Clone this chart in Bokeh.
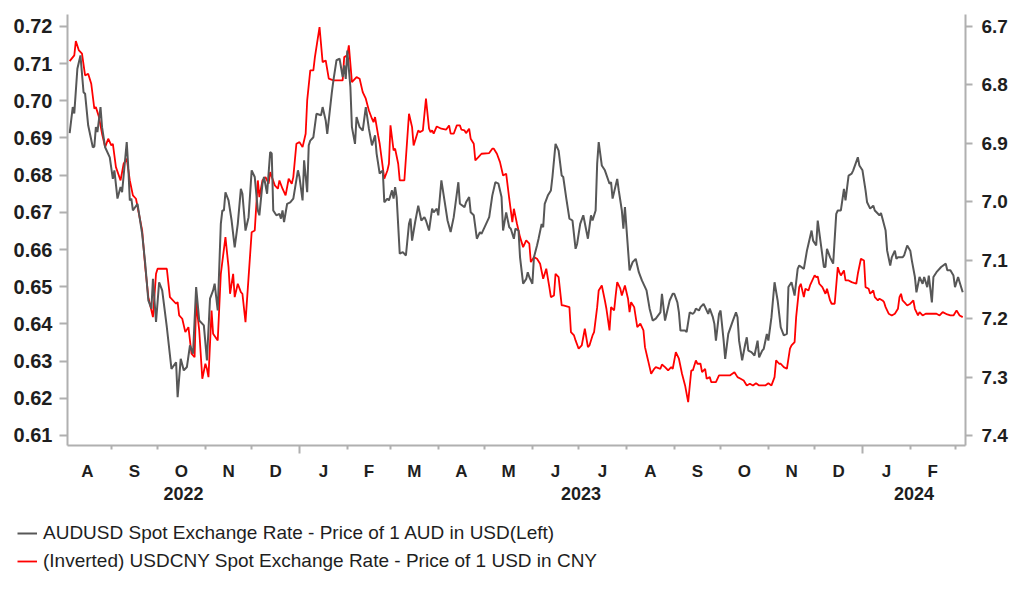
import pandas as pd
from bokeh.plotting import figure
from bokeh.layouts import column
from bokeh.models import (Range1d, LinearAxis, FixedTicker, CustomJSTickFormatter,
                          Legend, LegendItem, NumeralTickFormatter)
from bokeh.embed import file_html
from bokeh.resources import INLINE

# ---------------- data (days since 2022-08-01, value) ----------------
BASE = pd.Timestamp("2022-08-01")

aud_days = [4, 6, 7, 9, 11, 13, 14, 16, 19, 20, 21, 22, 24, 25, 27, 30, 32, 33, 35, 37, 38, 41, 42, 43, 44, 45, 48,
            51, 53, 55, 57, 58, 60, 62, 64, 67, 70, 73, 74, 76, 78, 80, 82, 84, 86, 88, 91, 93, 95, 97, 98, 100,
            102, 103, 104, 105, 107, 109, 111, 113, 115, 116, 118, 120, 122, 124, 126, 127, 129, 130, 132, 134,
            135, 136, 138, 140, 141, 142, 143, 145, 147, 149, 152, 153, 155, 156, 158, 159, 160, 162, 164, 167,
            168, 170, 171, 174, 175, 177, 179, 181, 182, 183, 184, 186, 187, 189, 190, 192, 194, 196, 198, 200,
            202, 203, 205, 207, 208, 210, 211, 213, 214, 215, 216, 218, 220, 222, 224, 225, 226, 228, 230, 232,
            234, 235, 237, 239, 240, 242, 243, 245, 247, 249, 251, 253, 256, 257, 260, 261, 263, 264, 266, 268,
            270, 271, 274, 276, 278, 280, 282, 284, 285, 287, 289, 290, 292, 293, 295, 296, 298, 300, 301, 302,
            304, 305, 307, 308, 310, 311, 312, 314, 316, 317, 319, 321, 323, 324, 326, 328, 330, 332, 333, 335,
            337, 340, 342, 343, 345, 346, 347, 349, 351, 354, 355, 356, 359, 360, 362, 363, 364, 367, 369, 371,
            373, 375, 378, 380, 382, 384, 387, 388, 390, 393, 395, 396, 398, 399, 400, 403, 404, 406, 408, 409,
            410, 412, 413, 415, 416, 418, 419, 421, 422, 423, 425, 426, 428, 429, 431, 434, 436, 437, 438, 440,
            442, 443, 444, 446, 448, 450, 451, 453, 454, 456, 457, 459, 461, 463, 465, 467, 469, 470, 472, 474,
            476, 477, 480, 482, 483, 485, 486, 488, 489, 491, 493, 494, 495, 497, 499, 501, 502, 504, 506, 507,
            509, 511, 512, 515, 516, 518, 520, 521, 523, 525, 526, 529, 530, 531, 533, 534, 536, 537, 539, 540,
            541, 544, 545, 547, 549, 550, 552, 553, 555, 557, 558, 560, 561, 563, 564, 566, 569, 572, 573, 575,
            577, 578, 580, 581, 583]
aud_vals = [0.6913, 0.6983, 0.6966, 0.7086, 0.7122, 0.7023, 0.7019, 0.6934, 0.6875, 0.6877, 0.6929, 0.6916,
            0.6983, 0.6929, 0.6875, 0.6848, 0.6790, 0.6813, 0.6737, 0.6768, 0.6754, 0.6889, 0.6822, 0.6732,
            0.6737, 0.6705, 0.6723, 0.6642, 0.6562, 0.6463, 0.6441, 0.6521, 0.6405, 0.6512, 0.6490, 0.6391,
            0.6279, 0.6297, 0.6203, 0.6306, 0.6275, 0.6284, 0.6342, 0.6320, 0.6499, 0.6409, 0.6396, 0.6302,
            0.6468, 0.6490, 0.6508, 0.6436, 0.6669, 0.6705, 0.6705, 0.6754, 0.6732, 0.6678, 0.6606, 0.6669,
            0.6763, 0.6750, 0.6651, 0.6687, 0.6813, 0.6795, 0.6705, 0.6692, 0.6777, 0.6795, 0.6750, 0.6862,
            0.6858, 0.6705, 0.6692, 0.6696, 0.6683, 0.6705, 0.6674, 0.6723, 0.6727, 0.6737, 0.6813, 0.6795,
            0.6732, 0.6840, 0.6754, 0.6880, 0.6893, 0.6902, 0.6965, 0.6961, 0.6983, 0.6947, 0.6911, 0.7023,
            0.7055, 0.7109, 0.7113, 0.7064, 0.7095, 0.7059, 0.7135, 0.7037, 0.6929, 0.6884, 0.6956, 0.6929,
            0.6920, 0.6983, 0.6925, 0.6880, 0.6907, 0.6858, 0.6804, 0.6813, 0.6727, 0.6737, 0.6732, 0.6759,
            0.6737, 0.6768, 0.6741, 0.6589, 0.6593, 0.6584, 0.6669, 0.6683, 0.6624, 0.6674, 0.6718, 0.6678,
            0.6687, 0.6678, 0.6651, 0.6710, 0.6700, 0.6710, 0.6692, 0.6786, 0.6732, 0.6678, 0.6647, 0.6687,
            0.6781, 0.6723, 0.6714, 0.6727, 0.6741, 0.6700, 0.6692, 0.6629, 0.6647, 0.6642, 0.6669, 0.6687,
            0.6745, 0.6781, 0.6777, 0.6741, 0.6651, 0.6700, 0.6660, 0.6656, 0.6629, 0.6656, 0.6651, 0.6579,
            0.6508, 0.6521, 0.6539, 0.6526, 0.6508, 0.6579, 0.6611, 0.6629, 0.6669, 0.6660, 0.6723, 0.6745,
            0.6759, 0.6795, 0.6884, 0.6866, 0.6799, 0.6795, 0.6737, 0.6683, 0.6678, 0.6602, 0.6615, 0.6669,
            0.6692, 0.6629, 0.6692, 0.6678, 0.6705, 0.6831, 0.6889, 0.6826, 0.6813, 0.6777, 0.6781, 0.6737,
            0.6790, 0.6759, 0.6705, 0.6656, 0.6714, 0.6544, 0.6566, 0.6575, 0.6539, 0.6517, 0.6490, 0.6441,
            0.6409, 0.6414, 0.6431, 0.6481, 0.6409, 0.6463, 0.6481, 0.6481, 0.6458, 0.6431, 0.6382, 0.6382,
            0.6378, 0.6431, 0.6427, 0.6431, 0.6441, 0.6436, 0.6445, 0.6454, 0.6445, 0.6427, 0.6441, 0.6418,
            0.6400, 0.6355, 0.6427, 0.6436, 0.6355, 0.6306, 0.6373, 0.6409, 0.6431, 0.6418, 0.6355, 0.6302,
            0.6346, 0.6364, 0.6328, 0.6324, 0.6315, 0.6355, 0.6310, 0.6328, 0.6333, 0.6373, 0.6355, 0.6418,
            0.6512, 0.6463, 0.6391, 0.6369, 0.6373, 0.6499, 0.6512, 0.6476, 0.6548, 0.6557, 0.6548, 0.6597,
            0.6615, 0.6651, 0.6624, 0.6611, 0.6678, 0.6615, 0.6553, 0.6553, 0.6602, 0.6579, 0.6562, 0.6696,
            0.6705, 0.6705, 0.6763, 0.6732, 0.6799, 0.6804, 0.6813, 0.6848, 0.6826, 0.6813, 0.6759, 0.6727,
            0.6710, 0.6718, 0.6705, 0.6692, 0.6698, 0.6683, 0.6651, 0.6597, 0.6557, 0.6579, 0.6597, 0.6575,
            0.6579, 0.6579, 0.6584, 0.6611, 0.6597, 0.6571, 0.6526, 0.6485, 0.6526, 0.6508, 0.6526, 0.6499,
            0.6530, 0.6458, 0.6526, 0.6539, 0.6553, 0.6562, 0.6544, 0.6544, 0.6530, 0.6499, 0.6526, 0.6512,
            0.6485]

cny_days = [4, 7, 8, 10, 12, 14, 16, 18, 20, 21, 23, 25, 27, 29, 31, 32, 34, 37, 39, 41, 43, 45, 47, 51, 53,
            55, 58, 60, 61, 67, 69, 73, 74, 75, 77, 79, 81, 83, 85, 86, 88, 90, 92, 93, 94, 96, 97, 100, 102,
            105, 107, 108, 110, 111, 113, 115, 116, 118, 120, 122, 124, 126, 127, 129, 131, 133, 134, 137, 139,
            140, 142, 144, 146, 148, 149, 151, 153, 155, 157, 158, 160, 162, 163, 166, 168, 170, 172, 175, 181,
            182, 184, 185, 187, 190, 192, 194, 196, 198, 200, 201, 202, 204, 205, 207, 208, 210, 211, 212, 214,
            215, 217, 218, 221, 224, 226, 227, 228, 230, 231, 233, 235, 237, 238, 239, 240, 242, 245, 248, 250,
            251, 253, 255, 257, 258, 260, 261, 263, 264, 266, 267, 269, 271, 276, 278, 279, 281, 283, 285, 287,
            289, 291, 292, 294, 296, 298, 300, 302, 303, 305, 307, 309, 311, 313, 315, 316, 318, 319, 321, 323,
            324, 328, 329, 331, 332, 334, 336, 338, 340, 341, 343, 344, 346, 347, 349, 351, 352, 354, 355, 357,
            358, 359, 361, 362, 364, 366, 367, 368, 370, 372, 374, 376, 377, 379, 381, 383, 384, 387, 388, 390,
            392, 394, 395, 397, 399, 401, 403, 405, 407, 408, 410, 411, 413, 414, 416, 417, 419, 420, 423, 425,
            432, 435, 437, 439, 441, 443, 445, 447, 449, 451, 455, 457, 459, 461, 462, 464, 465, 467, 469, 471,
            472, 474, 475, 477, 478, 480, 481, 483, 484, 486, 487, 488, 489, 490, 492, 494, 495, 497, 498, 500,
            502, 503, 504, 506, 507, 509, 511, 514, 515, 517, 519, 520, 522, 523, 525, 526, 528, 529, 531, 532,
            533, 535, 537, 539, 541, 542, 543, 544, 546, 547, 549, 551, 552, 554, 555, 557, 559, 566, 568, 570,
            573, 575, 577, 579, 581, 583]
cny_vals = [6.7594, 6.7496, 6.7252, 6.7411, 6.7467, 6.7839, 6.7810, 6.7981, 6.8409, 6.8381, 6.8552, 6.8836,
            6.9066, 6.8922, 6.9037, 6.9008, 6.9408, 6.9636, 6.9350, 6.9264, 6.9636, 6.9892, 6.9949, 7.0491,
            7.1120, 7.1633, 7.1975, 7.1233, 7.1147, 7.1147, 7.1633, 7.1746, 7.1719, 7.1946, 7.2003, 7.2232,
            7.2146, 7.2602, 7.2660, 7.1719, 7.2203, 7.3030, 7.2773, 7.2859, 7.3002, 7.1861, 7.2259, 7.2374,
            7.1233, 7.0606, 7.1120, 7.1575, 7.1233, 7.1633, 7.1404, 7.1547, 7.1575, 7.2061, 7.1291, 7.0521,
            7.0491, 6.9636, 6.9922, 6.9636, 6.9579, 6.9692, 6.9494, 6.9721, 6.9778, 6.9636, 6.9778, 6.9892,
            6.9607, 6.9692, 6.9579, 6.9008, 6.8980, 6.9066, 6.8836, 6.8267, 6.7753, 6.7753, 6.7525, 6.7012,
            6.7611, 6.7582, 6.7895, 6.7924, 6.7924, 6.7525, 6.7496, 6.7325, 6.7953, 6.7868, 6.7895, 6.8124,
            6.8237, 6.8438, 6.8580, 6.8638, 6.8552, 6.8866, 6.9008, 6.9408, 6.9607, 6.9465, 6.9350, 6.8694,
            6.9122, 6.9093, 6.9350, 6.9636, 6.9636, 6.8494, 6.8723, 6.9037, 6.8951, 6.8780, 6.8809, 6.8780,
            6.8237, 6.8751, 6.8809, 6.8780, 6.8836, 6.8712, 6.8751, 6.8768, 6.8694, 6.8836, 6.8836, 6.8694,
            6.8694, 6.8768, 6.8780, 6.8826, 6.8751, 6.8922, 6.9008, 6.9293, 6.9237, 6.9179, 6.9168, 6.9093,
            6.9093, 6.9179, 6.9322, 6.9550, 6.9521, 6.9949, 7.0349, 7.0120, 7.0377, 7.0606, 7.0777, 7.0663,
            7.0719, 7.1034, 7.0948, 7.0976, 7.1061, 7.1318, 7.1147, 7.1462, 7.1633, 7.1604, 7.1233, 7.1291,
            7.1775, 7.1775, 7.1804, 7.2232, 7.2289, 7.2374, 7.2516, 7.2460, 7.2174, 7.2489, 7.2460, 7.2289,
            7.2232, 7.1804, 7.1518, 7.1433, 7.1690, 7.1832, 7.2203, 7.1804, 7.1861, 7.1604, 7.1376, 7.1489,
            7.1604, 7.1433, 7.1660, 7.1890, 7.1719, 7.1804, 7.2146, 7.2088, 7.2203, 7.2489, 7.2716, 7.2944,
            7.2859, 7.2831, 7.2859, 7.2785, 7.2831, 7.2888, 7.2831, 7.2859, 7.2574, 7.2687, 7.2944, 7.3144,
            7.3430, 7.2888, 7.2888, 7.2716, 7.2773, 7.2773, 7.2917, 7.2859, 7.3030, 7.3002, 7.3088, 7.3088,
            7.2973, 7.2973, 7.2917, 7.3002, 7.3030, 7.3059, 7.3144, 7.3115, 7.3144, 7.3105, 7.3144, 7.3144,
            7.3105, 7.3144, 7.3002, 7.2716, 7.2773, 7.2773, 7.2831, 7.2859, 7.2516, 7.2460, 7.2403, 7.1975,
            7.1462, 7.1404, 7.1633, 7.1489, 7.1518, 7.1433, 7.1318, 7.1262, 7.1291, 7.1279, 7.1404, 7.1462,
            7.1575, 7.1489, 7.1690, 7.1746, 7.1746, 7.1120, 7.1205, 7.1262, 7.1176, 7.1347, 7.1347, 7.1376,
            7.1404, 7.1233, 7.0976, 7.1005, 7.1462, 7.1489, 7.1575, 7.1518, 7.1633, 7.1690, 7.1660, 7.1690,
            7.1719, 7.1804, 7.1917, 7.1946, 7.1917, 7.1832, 7.1633, 7.1575, 7.1690, 7.1746, 7.1775, 7.1746,
            7.1690, 7.1832, 7.1946, 7.1890, 7.1946, 7.1917, 7.1917, 7.1946, 7.1890, 7.1929, 7.1946, 7.1946,
            7.1861, 7.1946, 7.1975]

left_ticks = [0.61, 0.62, 0.63, 0.64, 0.65, 0.66, 0.67, 0.68, 0.69, 0.70, 0.71, 0.72]
right_ticks = [6.7, 6.8, 6.9, 7.0, 7.1, 7.2, 7.3, 7.4]
label_aud = "AUDUSD Spot Exchange Rate - Price of 1 AUD in USD(Left)"
label_cny = "(Inverted) USDCNY Spot Exchange Rate - Price of 1 USD in CNY"

# ---------------- derived ----------------
aud_x = BASE + pd.to_timedelta(aud_days, unit="D")
cny_x = BASE + pd.to_timedelta(cny_days, unit="D")

x_start = BASE + pd.Timedelta(days=2.6)
x_end = BASE + pd.Timedelta(days=584.8)


def ms(ts):
    return ts.value / 1e6


month_starts = pd.date_range("2022-08-01", "2024-04-01", freq="MS")
boundary_ticks = [ms(t) for t in month_starts if x_start < t < x_end and t.month != 1]
year_ticks = [ms(t) for t in month_starts if x_start < t < x_end and t.month == 1]
mid_ticks = [(ms(a) + ms(b)) / 2 for a, b in zip(month_starts[:-2], month_starts[1:-1])]
year_edges = [x_start, pd.Timestamp("2023-01-01"), pd.Timestamp("2024-01-01"), x_end]
year_centers = [(ms(a) + ms(b)) / 2 for a, b in zip(year_edges[:-1], year_edges[1:])]

AX = "#b0b0b0"
TXT = "#1e1e1e"
FONT = "Liberation Sans"
GRAY = "#575757"
RED = "#ff0000"

p = figure(frame_width=898, frame_height=431, x_axis_type=None, y_axis_type=None,
           x_range=Range1d(x_start, x_end), y_range=Range1d(0.6073, 0.7232),
           output_backend="svg", toolbar_location=None,
           min_border_left=67, min_border_right=55, min_border_top=14, min_border_bottom=67)
p.extra_y_ranges = {"cny": Range1d(start=7.4172, end=6.6796)}
p.outline_line_color = None


def style_axis(ax, size="20px", bold=True):
    ax.axis_line_color = AX
    ax.axis_line_width = 2
    ax.major_tick_line_color = AX
    ax.major_tick_line_width = 2
    ax.minor_tick_line_color = AX
    ax.minor_tick_line_width = 2
    ax.major_tick_in = 0
    ax.minor_tick_in = 0
    ax.major_label_text_font = FONT
    ax.major_label_text_font_size = size
    ax.major_label_text_font_style = "bold" if bold else "normal"
    ax.major_label_text_color = TXT


left = LinearAxis(ticker=FixedTicker(ticks=left_ticks, minor_ticks=[]),
                  formatter=NumeralTickFormatter(format="0.00"))
style_axis(left)
left.major_tick_out = 8
left.minor_tick_out = 0
left.major_label_standoff = 7
p.add_layout(left, "left")

right = LinearAxis(y_range_name="cny", ticker=FixedTicker(ticks=right_ticks, minor_ticks=[]),
                   formatter=NumeralTickFormatter(format="0.0"))
style_axis(right, size="19px")
right.major_tick_out = 7
right.minor_tick_out = 0
right.major_label_standoff = 9
p.add_layout(right, "right")

# axis line with month-boundary ticks (longer at year boundaries)
xa = LinearAxis(ticker=FixedTicker(ticks=year_ticks, minor_ticks=boundary_ticks),
                formatter=CustomJSTickFormatter(code="return ''"))
style_axis(xa, size="0px")
xa.major_tick_out = 8
xa.minor_tick_out = 4
xa.major_label_standoff = 0
p.add_layout(xa, "below")

# month letters
xm = LinearAxis(ticker=FixedTicker(ticks=mid_ticks, minor_ticks=[]),
                formatter=CustomJSTickFormatter(code="return 'JFMAMJJASOND'[new Date(tick).getUTCMonth()];"))
style_axis(xm, size="17px")
xm.axis_line_color = None
xm.major_tick_line_color = None
xm.minor_tick_line_color = None
xm.major_tick_out = 0
xm.minor_tick_out = 0
xm.major_label_standoff = 8
p.add_layout(xm, "below")

# years
xy = LinearAxis(ticker=FixedTicker(ticks=year_centers, minor_ticks=[]),
                formatter=CustomJSTickFormatter(code="return String(new Date(tick).getUTCFullYear());"))
style_axis(xy, size="18px")
xy.axis_line_color = None
xy.major_tick_line_color = None
xy.minor_tick_line_color = None
xy.major_tick_out = 0
xy.minor_tick_out = 0
xy.major_label_standoff = 3
p.add_layout(xy, "below")

r_cny = p.line(cny_x, cny_vals, y_range_name="cny", line_color=RED, line_width=1.8)
r_aud = p.line(aud_x, aud_vals, line_color=GRAY, line_width=2)

# ---------------- legend panel below the chart ----------------
lg = figure(width=p.frame_width + 67 + 55, height=80, x_axis_type=None, y_axis_type=None,
            x_range=Range1d(0, 1), y_range=Range1d(0, 1),
            output_backend="svg", toolbar_location=None,
            min_border_left=0, min_border_right=0, min_border_top=0, min_border_bottom=0)
lg.outline_line_color = None
aligned = True
if "frame_align" in lg.properties():
    lg.frame_align = False
    p.frame_align = False
    aligned = False
# off-range anchor points: only the legend swatches of these renderers are visible
l_aud = lg.line([-1, -2], [-1, -2], line_color=GRAY, line_width=2)
l_cny = lg.line([-1, -2], [-1, -2], line_color=RED, line_width=1.8)
legend = Legend(items=[LegendItem(label=label_aud, renderers=[l_aud]),
                       LegendItem(label=label_cny, renderers=[l_cny])],
                location=(17 - (67 if aligned else 0), 17), orientation="vertical",
                padding=0, spacing=0, margin=0,
                glyph_width=20, glyph_height=28, label_height=28, label_standoff=6,
                border_line_color=None, background_fill_alpha=0,
                label_text_font=FONT, label_text_font_size="19px", label_text_color=TXT)
lg.add_layout(legend, "center")

layout = column(p, lg, spacing=0)
open("out.html", "w").write(file_html(layout, INLINE))
